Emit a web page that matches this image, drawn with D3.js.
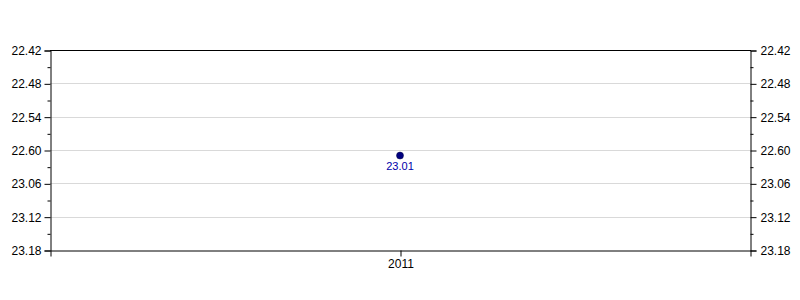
<!DOCTYPE html>
<html>
<head>
<meta charset="utf-8">
<script src="https://cdn.jsdelivr.net/npm/d3@7"></script>
<style>
  body { margin: 0; background: #fff; }
  svg text { font-family: "Liberation Sans", Arial, sans-serif; }
</style>
</head>
<body>
<div id="chart"></div>
<script>
// race times in seconds (23:01 -> 1381)
const years = ["2011"];
const times = [1381];
const timeLabels = ["23.01"];

const yTickValues = [1362, 1368, 1374, 1380, 1386, 1392, 1398];
const yTickLabels = ["22.42", "22.48", "22.54", "22.60", "23.06", "23.12", "23.18"];
const yMinorValues = [1365, 1371, 1377, 1383, 1389, 1395];

const width = 800;
const height = 300;
const margin = { top: 50, right: 50, bottom: 50, left: 50 };

var svg = d3
  .select("#chart")
  .append("svg")
  .attr("width", width)
  .attr("height", height);

var x = d3
  .scalePoint()
  .domain(years)
  .range([margin.left, width - margin.right])
  .padding(0.5);

var y = d3
  .scaleLinear()
  .domain([yTickValues[0], yTickValues[yTickValues.length - 1]])
  .range([margin.top, height - margin.bottom]);

//grid lines
svg
  .append("g")
  .selectAll("line")
  .data(yTickValues.slice(1, -1))
  .enter()
  .append("line")
  .attr("x1", margin.left)
  .attr("x2", width - margin.right)
  .attr("y1", (d) => Math.round(y(d)) + 0.5)
  .attr("y2", (d) => Math.round(y(d)) + 0.5)
  .attr("stroke", "#d9d9d9");

// axes
var fmt = (d) => yTickLabels[yTickValues.indexOf(d)];

var leftAxis = svg
  .append("g")
  .attr("transform", "translate(" + (margin.left + 0.5) + ",0.5)")
  .call(d3.axisLeft(y).tickValues(yTickValues).tickFormat(fmt).tickSizeOuter(0).tickSize(6).tickPadding(3));
leftAxis
  .append("g")
  .call(d3.axisLeft(y).tickValues(yMinorValues).tickFormat("").tickSize(3))
  .select(".domain").remove();

var rightAxis = svg
  .append("g")
  .attr("transform", "translate(" + (width - margin.right + 0.5) + ",0.5)")
  .call(d3.axisRight(y).tickValues(yTickValues).tickFormat(fmt).tickSizeOuter(0).tickSize(6).tickPadding(4));
rightAxis
  .append("g")
  .call(d3.axisRight(y).tickValues(yMinorValues).tickFormat("").tickSize(3))
  .select(".domain").remove();

var bottomAxis = svg
  .append("g")
  .attr("transform", "translate(0.5," + (height - margin.bottom + 0.5) + ")")
  .call(d3.axisBottom(x).tickSizeOuter(0).tickSize(6).tickPadding(3));

// top border
svg
  .append("line")
  .attr("x1", margin.left)
  .attr("x2", width - margin.right + 1)
  .attr("y1", margin.top + 0.5)
  .attr("y2", margin.top + 0.5)
  .attr("stroke", "black");

svg.selectAll(".domain").attr("stroke", "black");
svg.selectAll(".tick line").attr("stroke", "black");
svg
  .selectAll(".tick text")
  .attr("fill", "black")
  .style("font-size", "12px")
  .style("font-family", "Liberation Sans, Arial, sans-serif");

//points
var pts = svg
  .append("g")
  .selectAll("g")
  .data(years)
  .enter()
  .append("g");

pts
  .append("circle")
  .attr("cx", (d) => x(d))
  .attr("cy", (d, i) => y(times[i]))
  .attr("r", 3.5)
  .attr("fill", "#000080")
  .attr("stroke", "#000040")
  .attr("stroke-width", 0.5);

pts
  .append("text")
  .attr("x", (d) => x(d))
  .attr("y", (d, i) => y(times[i]) + 14)
  .attr("text-anchor", "middle")
  .attr("fill", "#0000aa")
  .style("font-size", "11px")
  .text((d, i) => timeLabels[i]);
</script>
</body>
</html>
